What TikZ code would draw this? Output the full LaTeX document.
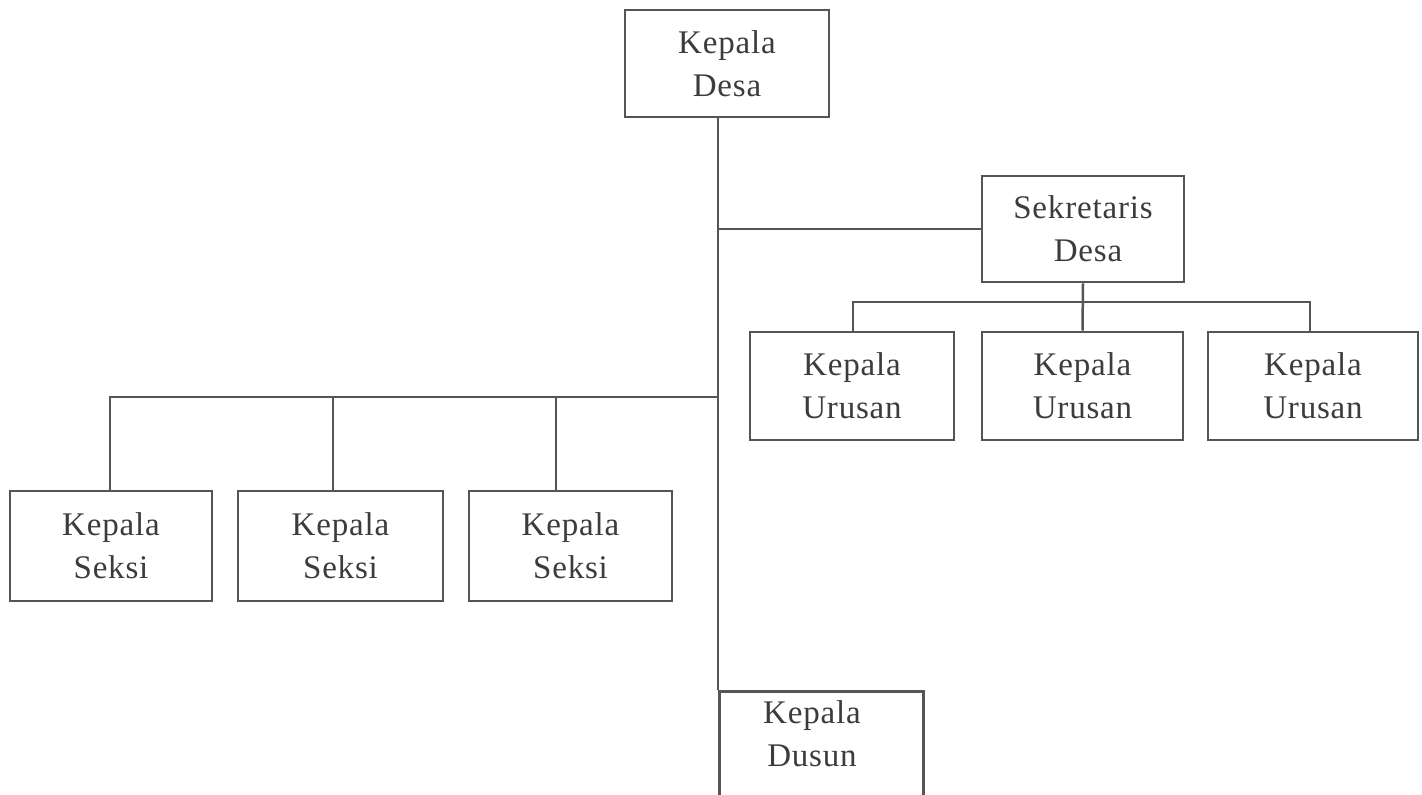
\documentclass[tikz,border=0pt]{standalone}
\usepackage{fontspec}
\setmainfont[LetterSpace=2.5]{Liberation Serif}
\definecolor{linegray}{HTML}{555555}
\definecolor{textgray}{HTML}{3C3C3C}
\tikzset{
  box/.style={draw=linegray, line width=2.8pt, inner sep=0pt, align=center,
    text=textgray, font=\fontsize{33}{43}\selectfont},
  conn/.style={draw=linegray, line width=2.5pt},
  lbl/.style={inner sep=0pt, align=center, text=textgray, font=\fontsize{33}{43}\selectfont}
}
\begin{document}
\begin{tikzpicture}[x=1pt,y=-1pt]
\useasboundingbox[fill=white] (0,0) rectangle (1422,795);
% boxes
\node[box, minimum width=204pt, minimum height=107pt] (kd) at (727,63.5) {Kepala\\Desa};
\node[box, minimum width=202pt, minimum height=106pt] (sd) at (1083,229) {Sekretaris\\\hspace*{10pt}Desa};
\node[box, minimum width=204pt, minimum height=108pt] (u1) at (852,386) {Kepala\\Urusan};
\node[box, minimum width=201pt, minimum height=108pt] (u2) at (1082.5,386) {Kepala\\Urusan};
\node[box, minimum width=210pt, minimum height=108pt] (u3) at (1313,386) {Kepala\\Urusan};
\node[box, minimum width=202pt, minimum height=110pt] (s1) at (111,546) {Kepala\\Seksi};
\node[box, minimum width=205pt, minimum height=110pt] (s2) at (340.5,546) {Kepala\\Seksi};
\node[box, minimum width=203pt, minimum height=110pt] (s3) at (570.5,546) {Kepala\\Seksi};
\node[box, minimum width=204pt, minimum height=150pt, anchor=north west] (dus) at (718,690) {};
\node[lbl] (dustext) at (812,734) {Kepala\\Dusun};
% main trunk
\coordinate (trunktop) at (kd.south -| dus.north west);
\draw[conn] (trunktop) -- (dus.north west);
% to Sekretaris
\draw[conn] (sd.west) -- (sd.west -| trunktop);
% Seksi bus
\coordinate (bs) at (718,397);
\coordinate (b1) at (110,397);
\coordinate (b2) at (333,397);
\coordinate (b3) at (556,397);
\draw[conn] (bs) -- (b1) -- (b1 |- s1.north);
\draw[conn] (b2) -- (b2 |- s2.north);
\draw[conn] (b3) -- (b3 |- s3.north);
% Urusan bus
\coordinate (ub) at (1083,302);
\coordinate (ub1) at (853,302);
\coordinate (ub3) at (1310,302);
\draw[conn] (sd.south) -- (u2.north);
\draw[conn] (ub1 |- u1.north) -- (ub1) -- (ub3) -- (ub3 |- u3.north);
\end{tikzpicture}
\end{document}
